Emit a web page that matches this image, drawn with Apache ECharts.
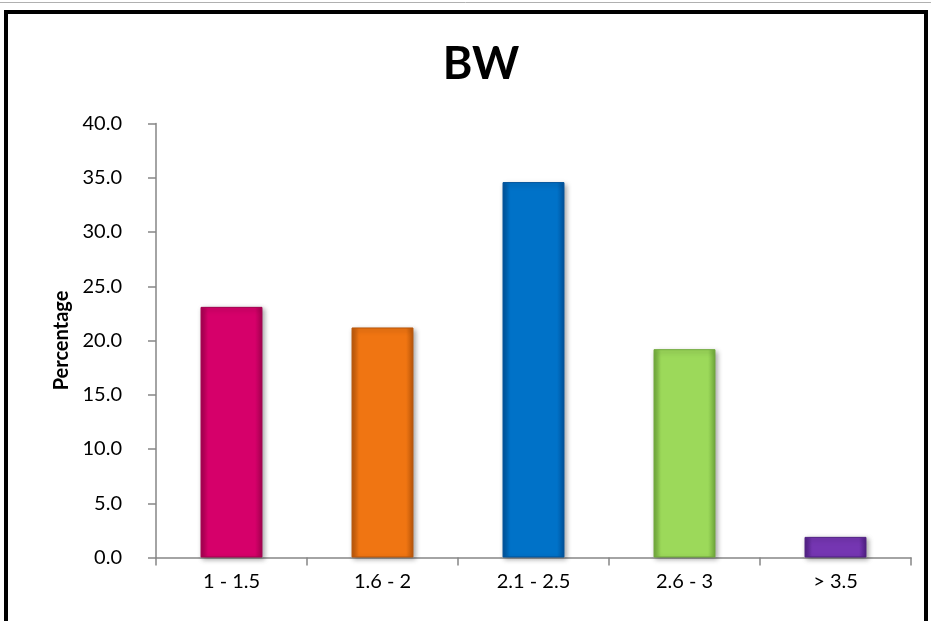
<!DOCTYPE html>
<html>
<head>
<meta charset="utf-8">
<script src="https://cdn.jsdelivr.net/npm/echarts@6/dist/echarts.min.js"></script>
<style>
  html, body { margin: 0; padding: 0; background: #ffffff; }
  #chart { width: 931px; height: 621px; }
</style>
</head>
<body>
<div id="chart"></div>
<script>
// Birth-weight groups (kg) and share of cases in each group (%)
const categories = ['1 - 1.5', '1.6 - 2', '2.1 - 2.5', '2.6 - 3', '> 3.5'];
const percentages = [23.1, 21.2, 34.6, 19.2, 1.9];
const yTicks = { min: 0, max: 40, interval: 5 };

// Bar fill colours, one per group: [edge, base, highlight]
const palette = [
  ['#a3004f', '#d6006a', '#f0389a'],
  ['#b8560a', '#f07512', '#ffa64a'],
  ['#00529a', '#0072c8', '#3a9ee6'],
  ['#6fa83a', '#9cd95a', '#c6f08e'],
  ['#4f1f82', '#7536b2', '#a36ee0']
];

function bevelFill(c) {
  // horizontal shading: darker rims, flat face in the middle
  return {
    type: 'linear', x: 0, y: 0, x2: 1, y2: 0,
    colorStops: [
      { offset: 0, color: c[0] },
      { offset: 0.12, color: c[1] },
      { offset: 0.88, color: c[1] },
      { offset: 1, color: c[0] }
    ]
  };
}

const chart = echarts.init(document.getElementById('chart'), null, { renderer: 'canvas' });

const font = 'Lato, "Liberation Sans", sans-serif';

chart.setOption({
  backgroundColor: '#ffffff',
  animation: false,
  title: {
    text: 'BW',
    left: 476,
    textAlign: 'center',
    top: 37,
    textStyle: { fontFamily: font, fontWeight: 'bold', fontSize: 45, color: '#000' }
  },
  grid: { left: 156, right: 20, top: 123.5, bottom: 63.5, containLabel: false },
  xAxis: {
    type: 'category',
    data: categories,
    axisLine: { lineStyle: { color: '#868686', width: 1.5 } },
    axisTick: { show: true, length: 8, alignWithLabel: false, lineStyle: { color: '#868686', width: 1.5 } },
    axisLabel: { color: '#000', fontFamily: font, fontSize: 20, margin: 14 },
    splitLine: { show: false }
  },
  yAxis: {
    type: 'value',
    min: yTicks.min,
    max: yTicks.max,
    interval: yTicks.interval,
    name: 'Percentage',
    nameLocation: 'middle',
    nameGap: 84,
    nameRotate: 90,
    nameTextStyle: { fontFamily: font, fontWeight: 'bold', fontSize: 20, color: '#000' },
    axisLine: { show: true, lineStyle: { color: '#868686', width: 1.5 } },
    axisTick: { show: true, inside: false, length: 8, lineStyle: { color: '#868686', width: 1.5 } },
    axisLabel: {
      color: '#000', fontFamily: font, fontSize: 20, margin: 34,
      formatter: v => v.toFixed(1)
    },
    splitLine: { show: false }
  },
  series: [{
    type: 'bar',
    barWidth: '41%',
    data: percentages.map((v, i) => ({
      value: v,
      itemStyle: {
        color: bevelFill(palette[i]),
        borderColor: palette[i][0],
        borderWidth: 1,
        shadowColor: 'rgba(0,0,0,0.35)',
        shadowBlur: 5,
        shadowOffsetX: 2,
        shadowOffsetY: 2
      }
    }))
  }],
  graphic: [
    {
      type: 'line',
      shape: { x1: 0, y1: 2.5, x2: 931, y2: 2.5 },
      style: { stroke: '#b0b0b0', lineWidth: 1 },
      silent: true
    },
    {
      type: 'rect',
      shape: { x: 6, y: 12, width: 920, height: 640 },
      style: { fill: 'none', stroke: '#000', lineWidth: 4 },
      silent: true
    }
  ]
});
</script>
</body>
</html>
